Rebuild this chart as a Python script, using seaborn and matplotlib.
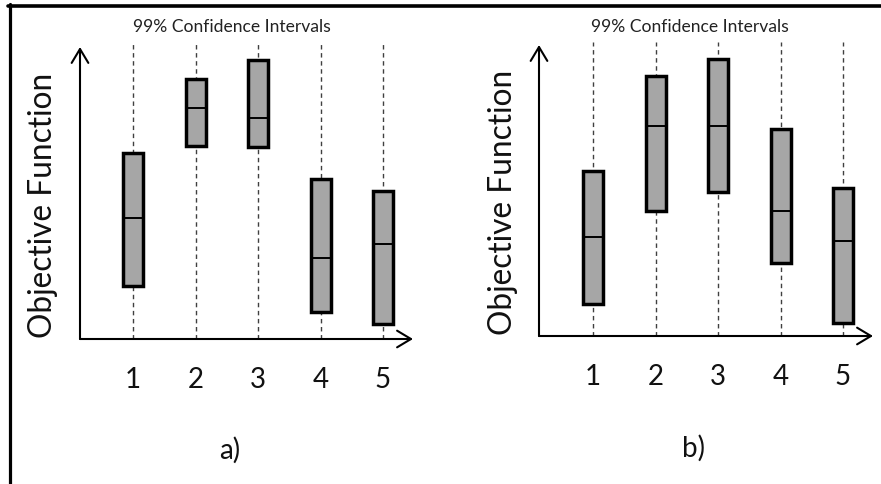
import numpy as np
import pandas as pd
import seaborn as sns
import matplotlib.pyplot as plt
from matplotlib.lines import Line2D

# category labels and the 99% interval of each run (low, median, high)
runs = ["1", "2", "3", "4", "5"]

a_low = [1.9, 6.9, 6.85, 0.98, 0.52]
a_med = [4.32, 8.25, 7.9, 2.9, 3.4]
a_high = [6.66, 9.3, 9.95, 5.73, 5.27]

b_low = [1.16, 4.48, 5.16, 2.59, 0.48]
b_med = [3.54, 7.5, 7.5, 4.46, 3.39]
b_high = [5.91, 9.27, 9.91, 7.38, 5.27]

title = "99% Confidence Intervals"
ylab = "Objective Function"
panels = ["a)", "b)"]

sns.set_style("white")
plt.rcParams['font.family'] = ['Lato', 'DejaVu Sans']

W, H = 881, 484
fig = plt.figure(figsize=(W / 100, H / 100), dpi=100)


def long_df(low, med, high):
    # five points per run so that q1 = low, median = med, q3 = high
    rows = []
    for r, lo, md, hi in zip(runs, low, med, high):
        for v in [lo, lo, md, hi, hi]:
            rows.append({"run": r, "value": v})
    return pd.DataFrame(rows)


def panel(left, top, right, bottom, x0px, low, med, high, tag, tagxy):
    ax = fig.add_axes([left / W, 1 - bottom / H, (right - left) / W, (bottom - top) / H])
    df = long_df(low, med, high)
    step = 62.5
    ax.vlines(range(len(runs)), 0, (bottom - top + 3) / 28, colors="#404040",
              linestyles=(0, (3.2, 2.6)), linewidth=1.0, clip_on=False, zorder=0)
    sns.boxplot(data=df, x="run", y="value", order=runs, color="#a6a6a6", saturation=1,
                width=0.32, linewidth=2.5, linecolor="black", whis=0, showcaps=False,
                fliersize=0, medianprops=dict(linewidth=1.4), ax=ax, zorder=2)
    ax.set_xlim((left - x0px) / step, (right - x0px) / step)
    ax.set_ylim(0, (bottom - top) / 28)
    for s in ax.spines.values():
        s.set_visible(False)
    ax.set_yticks([])
    ax.set_xticks(range(len(runs)), runs)
    ax.tick_params(axis="x", length=0, pad=20, labelsize=20, labelcolor="#111111")
    ax.set_xlabel("")
    ax.set_ylabel("")
    arrow = dict(arrowstyle="->,head_length=0.5,head_width=0.3", lw=1.5, color="black",
                 shrinkA=0, shrinkB=0, mutation_scale=20)
    ax.annotate("", xy=(0, 1), xytext=(0, 0), xycoords="axes fraction", arrowprops=arrow,
                annotation_clip=False)
    ax.annotate("", xy=(1, 0), xytext=(0, 0), xycoords="axes fraction", arrowprops=arrow,
                annotation_clip=False)
    fig.text(tagxy[0] / W, 1 - tagxy[1] / H, tag, ha="center", va="center",
             fontsize=20, color="#111111")
    return ax


panel(80, 47, 413, 339, 133, a_low, a_med, a_high, panels[0], (230, 450))
panel(539, 45, 873, 336, 593, b_low, b_med, b_high, panels[1], (693, 448))

# titles and axis names
for cx in [232, 690]:
    fig.text(cx / W, 1 - 27 / H, title, ha="center", va="center", fontsize=12.6, color="#222222")
for cx, cy in [(43, 205), (503, 202)]:
    fig.text(cx / W, 1 - cy / H, ylab, ha="center", va="center", rotation=90,
             fontsize=22.8, color="#111111")

# frame lines on top and left
fig.add_artist(Line2D([8 / W, 1], [1 - 5.7 / H, 1 - 5.7 / H], color="black", lw=2.6,
                      transform=fig.transFigure))
fig.add_artist(Line2D([10 / W, 10 / W], [0, 1 - 4 / H], color="black", lw=2.3,
                      transform=fig.transFigure))

fig.savefig("out.png", dpi=100)
